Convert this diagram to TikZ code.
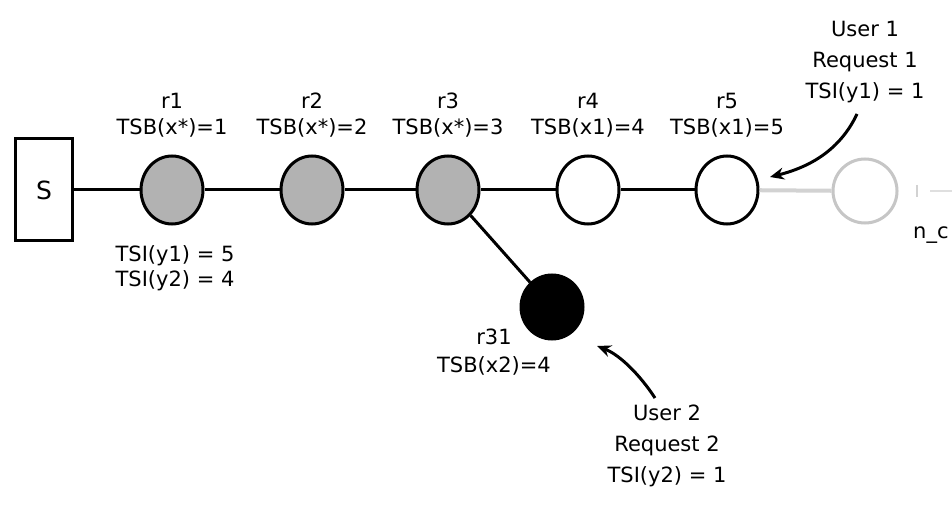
\documentclass[tikz,border=0pt]{standalone}
\usepackage{fontspec}
\setmainfont{DejaVu Sans}
\usetikzlibrary{arrows.meta,shapes.geometric}
\begin{document}
\begin{tikzpicture}[x=1pt,y=-1pt,
  lbl/.style={font=\fontsize{21}{24}\selectfont, inner sep=0pt, align=center},
  rnode/.style={ellipse, draw=black, line width=3pt, minimum width=62pt, minimum height=68pt, inner sep=0pt},
  visited/.style={rnode, fill=gray!60},
  fresh/.style={rnode, fill=white},
  ghost/.style={circle, draw=gray!45, line width=3pt, minimum size=64pt, inner sep=0pt},
  link/.style={line width=3pt},
  ghostlink/.style={line width=4pt, draw=gray!35},
  userarrow/.style={line width=3pt, -{Stealth[length=14pt,width=12pt]}}
]
\useasboundingbox (0,0) rectangle (952,529);
\clip (0,0) rectangle (952,529);
\fill[white] (0,0) rectangle (952,529);

% source
\node[draw=black, line width=3pt, minimum width=57pt, minimum height=102pt, inner sep=0pt,
      font=\fontsize{25}{28}\selectfont] (S) at (44,190) {S};

% routers
\node[visited] (r1) at (172,190) {};
\node[visited] (r2) at (312,190) {};
\node[visited] (r3) at (448,190) {};
\node[fresh] (r4) at (588,190) {};
\node[fresh] (r5) at (727,190) {};
\node[ellipse, draw=black, fill=black, line width=3pt, minimum width=62pt, minimum height=64pt, inner sep=0pt] (r31) at (552,307) {};
\node[ghost] (g) at (865,191) {};

% links
\draw[link] (S) -- (r1);
\draw[link] (r1) -- (r2);
\draw[link] (r2) -- (r3);
\draw[link] (r3) -- (r4);
\draw[link] (r4) -- (r5);
\draw[link] (r3) -- (r31);
\draw[ghostlink] (r5) -- (g);
\coordinate (t1) at (917,185);
\coordinate (t2) at (917,197);
\draw[line width=1.5pt, draw=gray!35] (t1) -- (t2);
\coordinate (e1) at (930,191);
\coordinate (e2) at (960,191);
\draw[line width=2pt, draw=gray!25] (e1) -- (e2);

% labels above
\node[lbl] (l1) at (172,115) {r1\\[2pt]TSB(x*)=1};
\node[lbl] (l2) at (312,115) {r2\\[2pt]TSB(x*)=2};
\node[lbl] (l3) at (448,115) {r3\\[2pt]TSB(x*)=3};
\node[lbl] (l4) at (588,115) {r4\\[2pt]TSB(x1)=4};
\node[lbl] (l5) at (727,115) {r5\\[2pt]TSB(x1)=5};

% labels below
\node[lbl] (tsi) at (175,268) {TSI(y1) = 5\\[1pt]TSI(y2) = 4};
\node[lbl] (l31) at (494,352) {r31\\[4pt]TSB(x2)=4};
\node[lbl, anchor=west] (nc) at (913,235) {n\_c};

% users
\node[lbl] (u1) at (865,62) {User 1\\[7pt]Request 1\\[7pt]TSI(y1) = 1};
\node[lbl] (u2) at (667,446) {User 2\\[7pt]Request 2\\[7pt]TSI(y2) = 1};

\coordinate (a1s) at (857,114);
\coordinate (a1e) at (770,177);
\draw[userarrow] (a1s) .. controls (840,150) and (810,167) .. (a1e);
\coordinate (a2s) at (655,398);
\coordinate (a2e) at (597,346);
\draw[userarrow] (a2s) .. controls (640,375) and (620,355) .. (a2e);
\end{tikzpicture}
\end{document}
